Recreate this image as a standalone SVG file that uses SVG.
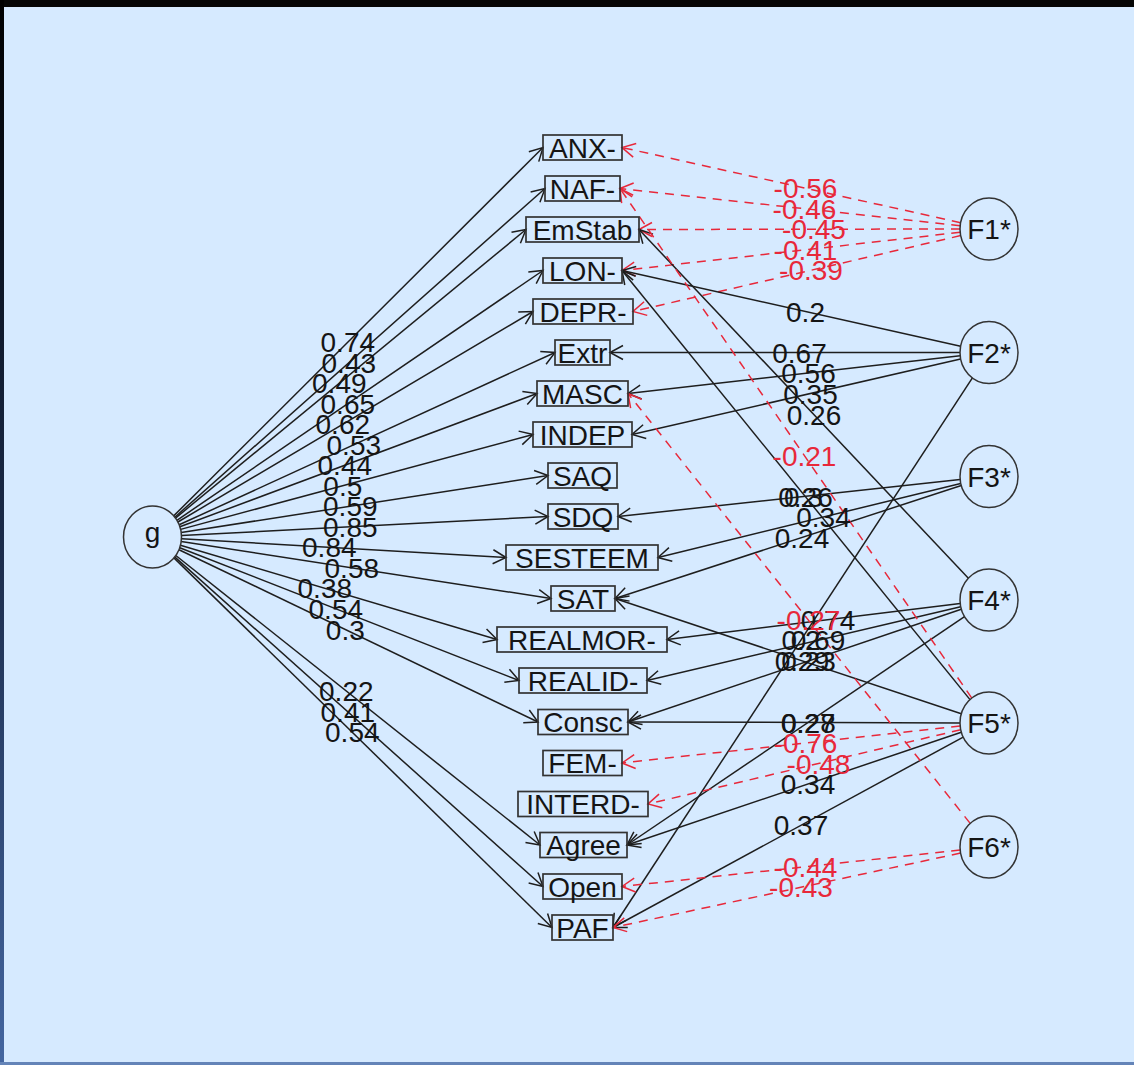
<svg xmlns="http://www.w3.org/2000/svg" width="1134" height="1065" viewBox="0 0 1134 1065">
<defs>
<linearGradient id="lg" x1="0" y1="0" x2="0" y2="1"><stop offset="0" stop-color="#000"/><stop offset="0.5" stop-color="#1a2a48"/><stop offset="1" stop-color="#4466a0"/></linearGradient>
<marker id="ab" viewBox="-15 -9 17 18" refX="0" refY="0" markerWidth="17" markerHeight="18" markerUnits="userSpaceOnUse" orient="auto"><path d="M-13,-7 L0,0 L-13,7" fill="none" stroke="#1e1e1e" stroke-width="1.5"/></marker>
<marker id="ar" viewBox="-15 -9 17 18" refX="0" refY="0" markerWidth="17" markerHeight="18" markerUnits="userSpaceOnUse" orient="auto"><path d="M-13,-7 L0,0 L-13,7" fill="none" stroke="#e8283a" stroke-width="1.5"/></marker>
</defs>
<style>
.e{stroke:#1e1e1e;stroke-width:1.5;fill:none;marker-end:url(#ab)}
.n{stroke:#e8283a;stroke-width:1.5;fill:none;stroke-dasharray:9 7;marker-end:url(#ar)}
.box{fill:none;stroke:#333;stroke-width:1.7}
.c{fill:none;stroke:#333;stroke-width:1.5}
.t{font-family:"Liberation Sans",Arial,Helvetica,sans-serif;font-size:28px;fill:#151515;text-anchor:middle}
.r{fill:#e8283a}
</style>
<rect x="0" y="0" width="1134" height="1065" fill="#d6eaff"/>
<rect x="0" y="0" width="1134" height="7" fill="#050505"/>
<rect x="0" y="0" width="4" height="1065" fill="url(#lg)"/>
<rect x="0" y="1062" width="1134" height="3" fill="#6484b8"/>

<g id="connectors">
<line class="e" x1="173.7" y1="515.9" x2="543" y2="147.5"/>
<line class="e" x1="174.8" y1="517.2" x2="545" y2="188.5"/>
<line class="e" x1="175.5" y1="518.1" x2="526" y2="229.5"/>
<line class="e" x1="176.9" y1="520.3" x2="543" y2="270.5"/>
<line class="e" x1="177.9" y1="522.0" x2="533" y2="311.5"/>
<line class="e" x1="179.2" y1="524.8" x2="555" y2="352.5"/>
<line class="e" x1="179.9" y1="526.8" x2="537" y2="393.5"/>
<line class="e" x1="180.6" y1="529.4" x2="533" y2="434.5"/>
<line class="e" x1="181.2" y1="532.5" x2="548" y2="475.5"/>
<line class="e" x1="181.5" y1="535.5" x2="548" y2="516.5"/>
<line class="e" x1="181.5" y1="538.7" x2="506" y2="557.5"/>
<line class="e" x1="181.2" y1="541.4" x2="551" y2="598.5"/>
<line class="e" x1="180.4" y1="545.3" x2="497" y2="639.5"/>
<line class="e" x1="179.7" y1="547.7" x2="519" y2="680.5"/>
<line class="e" x1="179.0" y1="549.7" x2="538" y2="722"/>
<line class="e" x1="175.8" y1="555.5" x2="540" y2="845"/>
<line class="e" x1="174.7" y1="556.9" x2="543" y2="886.5"/>
<line class="e" x1="173.9" y1="557.9" x2="552" y2="927.5"/>

<line class="n" x1="960.6" y1="222.7" x2="622" y2="147.5"/>
<line class="n" x1="960.2" y1="225.8" x2="620" y2="188.5"/>
<line class="n" x1="960" y1="229.0" x2="639" y2="229.5"/>
<line class="n" x1="960.2" y1="232.3" x2="622" y2="270.5"/>
<line class="n" x1="960.7" y1="235.6" x2="633" y2="311.5"/>
<line class="e" x1="960.6" y1="346.2" x2="622" y2="270.5"/>
<line class="e" x1="960" y1="352.5" x2="610" y2="352.5"/>
<line class="e" x1="960.2" y1="355.8" x2="628" y2="393.5"/>
<line class="e" x1="960.6" y1="359.0" x2="632" y2="434.5"/>
<line class="e" x1="972.4" y1="377.9" x2="613" y2="927.5"/>
<line class="e" x1="960.1" y1="479.6" x2="618" y2="516.5"/>
<line class="e" x1="960.7" y1="483.4" x2="658" y2="557.5"/>
<line class="e" x1="961.3" y1="485.5" x2="615" y2="598.5"/>
<line class="e" x1="968.4" y1="578.2" x2="639" y2="229.5"/>
<line class="e" x1="960.2" y1="603.5" x2="667" y2="639.5"/>
<line class="e" x1="960.7" y1="606.7" x2="647" y2="680.5"/>
<line class="e" x1="961.3" y1="609.3" x2="628" y2="722"/>
<line class="e" x1="964.5" y1="616.6" x2="627" y2="845"/>
<line class="n" x1="971.8" y1="698.1" x2="620" y2="188.5"/>
<line class="e" x1="970" y1="699.6" x2="622" y2="270.5"/>
<line class="e" x1="961.3" y1="713.8" x2="615" y2="598.5"/>
<line class="e" x1="960" y1="722.9" x2="628" y2="722"/>
<line class="n" x1="960.1" y1="726.1" x2="622" y2="763"/>
<line class="n" x1="960.7" y1="729.7" x2="648" y2="804"/>
<line class="e" x1="961.3" y1="732.3" x2="627" y2="845"/>
<line class="e" x1="963.2" y1="737.1" x2="613" y2="927.5"/>
<line class="n" x1="970.2" y1="823.4" x2="628" y2="393.5"/>
<line class="n" x1="960.1" y1="850.1" x2="622" y2="886.5"/>
<line class="n" x1="960.6" y1="853.1" x2="613" y2="927.5"/>
</g>

<g id="edge-labels">
<text class="t" x="347.8" y="352.3">0.74</text>
<text class="t" x="348.8" y="372.8">0.43</text>
<text class="t" x="339.3" y="393.3">0.49</text>
<text class="t" x="347.8" y="413.8">0.65</text>
<text class="t" x="342.8" y="434.3">0.62</text>
<text class="t" x="353.8" y="454.8">0.53</text>
<text class="t" x="344.8" y="475.3">0.44</text>
<text class="t" x="342.8" y="495.8">0.5</text>
<text class="t" x="350.3" y="516.3">0.59</text>
<text class="t" x="350.3" y="536.8">0.85</text>
<text class="t" x="329.3" y="557.3">0.84</text>
<text class="t" x="351.8" y="577.8">0.58</text>
<text class="t" x="324.8" y="598.3">0.38</text>
<text class="t" x="335.8" y="618.8">0.54</text>
<text class="t" x="345.3" y="639.5">0.3</text>
<text class="t" x="346.3" y="701">0.22</text>
<text class="t" x="347.8" y="721.8">0.41</text>
<text class="t" x="352.3" y="742.3">0.54</text>

<text class="t r" x="805.5" y="198.3">-0.56</text>
<text class="t r" x="804.5" y="218.8">-0.46</text>
<text class="t r" x="814" y="239.3">-0.45</text>
<text class="t r" x="805.5" y="259.8">-0.41</text>
<text class="t r" x="811" y="280.3">-0.39</text>
<text class="t" x="805.5" y="321.5">0.2</text>
<text class="t" x="799.5" y="362.5">0.67</text>
<text class="t" x="808.5" y="383">0.56</text>
<text class="t" x="810.5" y="403.5">0.35</text>
<text class="t" x="801" y="650">0.2</text>
<text class="t" x="803.5" y="506.5">0.3</text>
<text class="t" x="823.5" y="527">0.34</text>
<text class="t" x="802" y="547.5">0.24</text>
<text class="t" x="814" y="424.8">0.26</text>
<text class="t" x="828" y="629.8">0.74</text>
<text class="t" x="818" y="650.3">0.69</text>
<text class="t" x="808.5" y="671">0.23</text>
<text class="t" x="808" y="732.5">0.27</text>
<text class="t r" x="804.5" y="465.8">-0.21</text>
<text class="t" x="805.5" y="506.8">0.26</text>
<text class="t" x="802" y="670.8">0.29</text>
<text class="t" x="808.5" y="732.5">0.28</text>
<text class="t r" x="805.5" y="753">-0.76</text>
<text class="t r" x="818.5" y="773.5">-0.48</text>
<text class="t" x="808" y="794">0.34</text>
<text class="t" x="801" y="835.3">0.37</text>
<text class="t r" x="808.5" y="630.3">-0.27</text>
<text class="t r" x="805.5" y="876.8">-0.44</text>
<text class="t r" x="801" y="897.3">-0.43</text>
</g>

<g id="node-g"><ellipse class="c" cx="152.5" cy="537" rx="29" ry="31"/><text class="t" x="152.5" y="542">g</text></g>
<g id="node-F1"><ellipse class="c" cx="989" cy="229" rx="29" ry="31"/><text class="t" x="989" y="239">F1*</text></g>
<g id="node-F2"><ellipse class="c" cx="989" cy="352.5" rx="29" ry="31"/><text class="t" x="989" y="362.5">F2*</text></g>
<g id="node-F3"><ellipse class="c" cx="989" cy="476.5" rx="29" ry="31"/><text class="t" x="989" y="486.5">F3*</text></g>
<g id="node-F4"><ellipse class="c" cx="989" cy="600" rx="29" ry="31"/><text class="t" x="989" y="610">F4*</text></g>
<g id="node-F5"><ellipse class="c" cx="989" cy="723" rx="29" ry="31"/><text class="t" x="989" y="733">F5*</text></g>
<g id="node-F6"><ellipse class="c" cx="989" cy="847" rx="29" ry="31"/><text class="t" x="989" y="857">F6*</text></g>

<g id="node-ANX"><rect class="box" x="543" y="135" width="79" height="25"/><text class="t" x="582.5" y="157.5">ANX-</text></g>
<g id="node-NAF"><rect class="box" x="545" y="176" width="75" height="25"/><text class="t" x="582.5" y="198.5">NAF-</text></g>
<g id="node-EmStab"><rect class="box" x="526" y="217" width="113" height="25"/><text class="t" x="582.5" y="239.5">EmStab</text></g>
<g id="node-LON"><rect class="box" x="543" y="258" width="79" height="25"/><text class="t" x="582.5" y="280.5">LON-</text></g>
<g id="node-DEPR"><rect class="box" x="533" y="299" width="100" height="25"/><text class="t" x="583" y="321.5">DEPR-</text></g>
<g id="node-Extr"><rect class="box" x="555" y="340" width="55" height="25"/><text class="t" x="582.5" y="362.5">Extr</text></g>
<g id="node-MASC"><rect class="box" x="537" y="381" width="91" height="25"/><text class="t" x="582.5" y="403.5">MASC</text></g>
<g id="node-INDEP"><rect class="box" x="533" y="422" width="99" height="25"/><text class="t" x="582.5" y="444.5">INDEP</text></g>
<g id="node-SAQ"><rect class="box" x="548" y="463" width="69" height="25"/><text class="t" x="582.5" y="485.5">SAQ</text></g>
<g id="node-SDQ"><rect class="box" x="548" y="504" width="70" height="25"/><text class="t" x="583" y="526.5">SDQ</text></g>
<g id="node-SESTEEM"><rect class="box" x="506" y="545" width="152" height="25"/><text class="t" x="582" y="567.5">SESTEEM</text></g>
<g id="node-SAT"><rect class="box" x="551" y="586" width="64" height="25"/><text class="t" x="583" y="608.5">SAT</text></g>
<g id="node-REALMOR"><rect class="box" x="497" y="627" width="170" height="25"/><text class="t" x="582" y="649.5">REALMOR-</text></g>
<g id="node-REALID"><rect class="box" x="519" y="668" width="128" height="25"/><text class="t" x="583" y="690.5">REALID-</text></g>
<g id="node-Consc"><rect class="box" x="538" y="709.5" width="90" height="25"/><text class="t" x="583" y="732">Consc</text></g>
<g id="node-FEM"><rect class="box" x="543" y="750.5" width="79" height="25"/><text class="t" x="582.5" y="773">FEM-</text></g>
<g id="node-INTERD"><rect class="box" x="518" y="791.5" width="130" height="25"/><text class="t" x="583" y="814">INTERD-</text></g>
<g id="node-Agree"><rect class="box" x="540" y="832.5" width="87" height="25"/><text class="t" x="583.5" y="855">Agree</text></g>
<g id="node-Open"><rect class="box" x="543" y="874" width="79" height="25"/><text class="t" x="582.5" y="896.5">Open</text></g>
<g id="node-PAF"><rect class="box" x="552" y="915" width="61" height="25"/><text class="t" x="582.5" y="937.5">PAF</text></g>
</svg>
